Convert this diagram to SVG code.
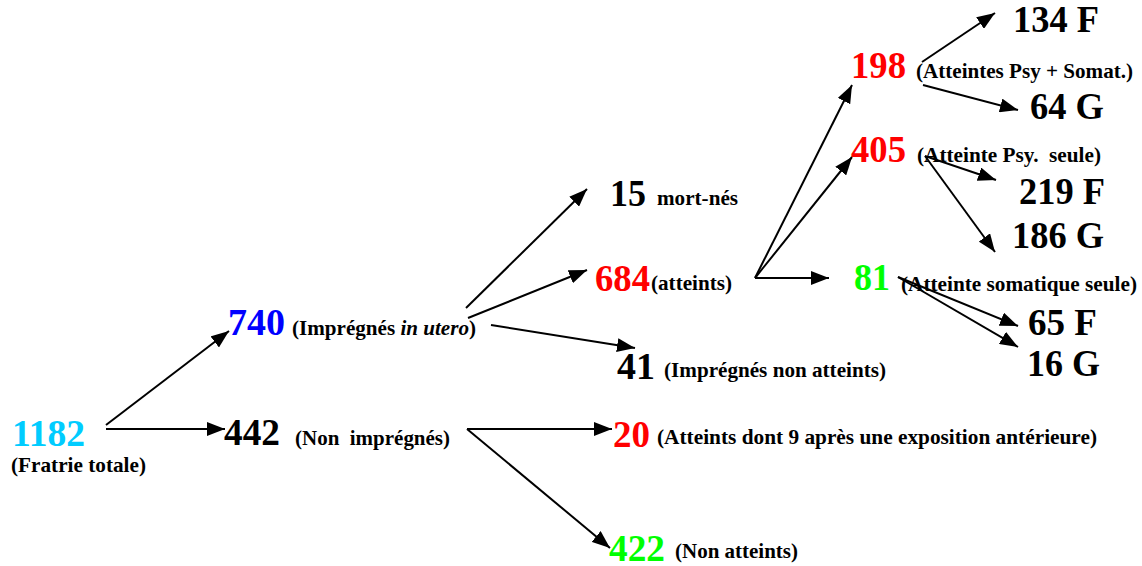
<svg xmlns="http://www.w3.org/2000/svg" width="1142" height="566" viewBox="0 0 1142 566">
  <style>
    text { font-family: "Liberation Serif", "Times New Roman", serif; font-weight: bold; white-space: pre; }
    .num { font-size: 38px; }
    .lbl { font-size: 22px; }
    .cyan { fill: #00CCFF; }
    .blue { fill: #0000FF; }
    .red { fill: #FF0000; }
    .green { fill: #00FF00; }
    .black { fill: #000000; }
    .conn line { stroke: #000; stroke-width: 2; marker-end: url(#arrow); }
  </style>
  <defs>
    <marker id="arrow" markerUnits="userSpaceOnUse" markerWidth="20" markerHeight="14" refX="18" refY="7" orient="auto">
      <path d="M0,0 L18,7 L0,14 z" fill="#000"/>
    </marker>
  </defs>
  <rect width="1142" height="566" fill="#fff"/>

  <g id="connectors" class="conn">
    <line x1="106" y1="425" x2="229" y2="331"/>
    <line x1="106" y1="429" x2="225" y2="429"/>
    <line x1="466" y1="308" x2="587" y2="189"/>
    <line x1="468" y1="318" x2="587" y2="270"/>
    <line x1="491" y1="325" x2="635" y2="348"/>
    <line x1="755" y1="278" x2="852" y2="85"/>
    <line x1="755" y1="278" x2="852" y2="157"/>
    <line x1="755" y1="278" x2="829" y2="278"/>
    <line x1="922" y1="62" x2="995" y2="13"/>
    <line x1="923" y1="85" x2="1018" y2="110"/>
    <line x1="925" y1="156" x2="996" y2="180"/>
    <line x1="925" y1="156" x2="995" y2="252"/>
    <line x1="898" y1="277" x2="1018" y2="326"/>
    <line x1="898" y1="277" x2="1018" y2="347"/>
    <line x1="467" y1="429" x2="612" y2="429"/>
    <line x1="467" y1="429" x2="610" y2="548"/>
  </g>

  <g id="n1182">
    <text class="num cyan" x="12" y="446" textLength="73" lengthAdjust="spacingAndGlyphs">1182</text>
    <text class="lbl black" x="11" y="472" textLength="135" lengthAdjust="spacingAndGlyphs">(Fratrie totale)</text>
  </g>
  <g id="n740">
    <text class="num blue" x="228" y="335" textLength="57" lengthAdjust="spacingAndGlyphs">740</text>
    <text class="lbl black" x="292" y="335" textLength="184" lengthAdjust="spacingAndGlyphs">(Imprégnés <tspan font-style="italic">in utero</tspan>)</text>
  </g>
  <g id="n442">
    <text class="num black" x="224" y="445" textLength="56" lengthAdjust="spacingAndGlyphs">442</text>
    <text class="lbl black" x="295" y="445" textLength="155" lengthAdjust="spacingAndGlyphs">(Non  imprégnés)</text>
  </g>
  <g id="n15">
    <text class="num black" x="610" y="206" textLength="36" lengthAdjust="spacingAndGlyphs">15</text>
    <text class="lbl black" x="657" y="205" textLength="81" lengthAdjust="spacingAndGlyphs">mort-nés</text>
  </g>
  <g id="n684">
    <text class="num red" x="595" y="291" textLength="55" lengthAdjust="spacingAndGlyphs">684</text>
    <text class="lbl black" x="651" y="290" textLength="81" lengthAdjust="spacingAndGlyphs">(atteints)</text>
  </g>
  <g id="n41">
    <text class="num black" x="617" y="379" textLength="38" lengthAdjust="spacingAndGlyphs">41</text>
    <text class="lbl black" x="664" y="377" textLength="222" lengthAdjust="spacingAndGlyphs">(Imprégnés non atteints)</text>
  </g>
  <g id="n20">
    <text class="num red" x="613" y="447" textLength="37" lengthAdjust="spacingAndGlyphs">20</text>
    <text class="lbl black" x="657" y="444" textLength="440" lengthAdjust="spacingAndGlyphs">(Atteints dont 9 après une exposition antérieure)</text>
  </g>
  <g id="n422">
    <text class="num green" x="609" y="561" textLength="56" lengthAdjust="spacingAndGlyphs">422</text>
    <text class="lbl black" x="675" y="558" textLength="123" lengthAdjust="spacingAndGlyphs">(Non atteints)</text>
  </g>
  <g id="n198">
    <text class="num red" x="851" y="78" textLength="55" lengthAdjust="spacingAndGlyphs">198</text>
    <text class="lbl black" x="916" y="78" textLength="217" lengthAdjust="spacingAndGlyphs">(Atteintes Psy + Somat.)</text>
  </g>
  <g id="n405">
    <text class="num red" x="851" y="162" textLength="55" lengthAdjust="spacingAndGlyphs">405</text>
    <text class="lbl black" x="917" y="162" textLength="184" lengthAdjust="spacingAndGlyphs">(Atteinte Psy.  seule)</text>
  </g>
  <g id="n81">
    <text class="num green" x="854" y="290" textLength="36" lengthAdjust="spacingAndGlyphs">81</text>
    <text class="lbl black" x="901" y="291" textLength="236" lengthAdjust="spacingAndGlyphs">(Atteinte somatique seule)</text>
  </g>
  <g id="n134F"><text class="num black" x="1013" y="32" textLength="86" lengthAdjust="spacingAndGlyphs">134 F</text></g>
  <g id="n64G"><text class="num black" x="1030" y="119" textLength="74" lengthAdjust="spacingAndGlyphs">64 G</text></g>
  <g id="n219F"><text class="num black" x="1019" y="204" textLength="86" lengthAdjust="spacingAndGlyphs">219 F</text></g>
  <g id="n186G"><text class="num black" x="1012" y="248" textLength="92" lengthAdjust="spacingAndGlyphs">186 G</text></g>
  <g id="n65F"><text class="num black" x="1028" y="335" textLength="69" lengthAdjust="spacingAndGlyphs">65 F</text></g>
  <g id="n16G"><text class="num black" x="1027" y="376" textLength="73" lengthAdjust="spacingAndGlyphs">16 G</text></g>
</svg>
